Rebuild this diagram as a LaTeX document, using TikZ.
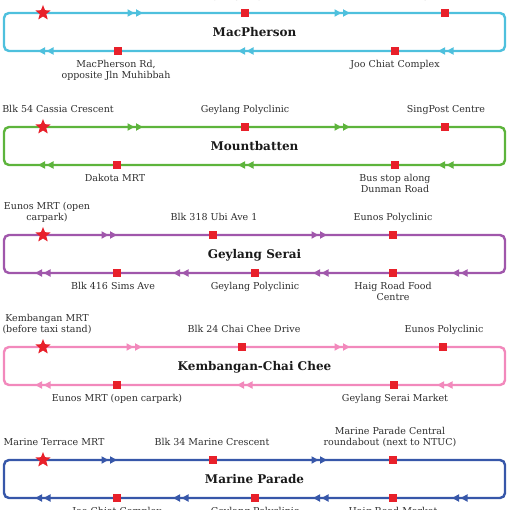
\documentclass[tikz,border=0pt]{standalone}
\usepackage{fontspec}
\setmainfont{DejaVu Serif}
\usetikzlibrary{shapes.geometric, arrows.meta, positioning}
\definecolor{macline}{HTML}{4EC0DD}
\definecolor{mbtline}{HTML}{5DB43C}
\definecolor{gysline}{HTML}{A057AB}
\definecolor{kccline}{HTML}{F289BC}
\definecolor{mpline}{HTML}{3757A9}
\definecolor{stopred}{HTML}{E8202A}
\definecolor{labeltext}{HTML}{2E2E2E}
\definecolor{titletext}{HTML}{1A1A1A}

\tikzset{
  loopbox/.style={draw=#1, rounded corners=5pt, line width=2.4pt,
    minimum width=501pt, minimum height=38pt, inner sep=0pt,
    text height=9pt, text depth=0pt, text=titletext,
    font=\fontsize{12}{14}\selectfont\bfseries},
  stopsq/.style={fill=stopred, minimum size=8pt, inner sep=0pt},
  startstar/.style={star, star points=5, star point ratio=2.3, fill=stopred,
    minimum size=16pt, inner sep=0pt},
  uplabel/.style={anchor=south, inner sep=0pt, align=center, text=labeltext,
    font=\fontsize{9.5}{11}\selectfont,
    execute at begin node=\strut, execute at end node=\strut},
  downlabel/.style={uplabel, anchor=north},
  flow/.style={draw=#1, line width=2.4pt,
    -{Triangle[length=7pt,width=7pt,sep=1.5pt]Triangle[length=7pt,width=7pt]}}
}

\begin{document}
\begin{tikzpicture}[x=1pt, y=-1pt]
  \useasboundingbox (0,0) rectangle (510,510);

  % MacPherson
  \node[loopbox=macline] (mac) at (254.5,32) {MacPherson};
  \draw[flow=macline] (127,13) -- (143,13);
  \draw[flow=macline] (334,13) -- (350,13);
  \draw[flow=macline] (54,51) -- (38,51);
  \draw[flow=macline] (254,51) -- (238,51);
  \draw[flow=macline] (454,51) -- (438,51);
  \node[startstar] (macstart) at (43,13) {};
  \node[stopsq] (macgp) at (245,13) {};
  \node[stopsq] (macsp) at (445,13) {};
  \node[stopsq] (macrd) at (118,51) {};
  \node[stopsq] (macjc) at (395,51) {};
  \node[uplabel] (macgpl) at (245,2.3) {Geylang Polyclinic};
  \node[uplabel] (macspl) at (446,2.3) {SingPost Centre};
  \node[downlabel] (macrdl) at (116,59.8) {MacPherson Rd,\\opposite Jln Muhibbah};
  \node[downlabel] (macjcl) at (395,59.8) {Joo Chiat Complex};

  % Mountbatten
  \node[loopbox=mbtline] (mbt) at (254.5,146) {Mountbatten};
  \draw[flow=mbtline] (127,127) -- (143,127);
  \draw[flow=mbtline] (334,127) -- (350,127);
  \draw[flow=mbtline] (54,165) -- (38,165);
  \draw[flow=mbtline] (254,165) -- (238,165);
  \draw[flow=mbtline] (454,165) -- (438,165);
  \node[startstar] (mbtstart) at (43,127) {};
  \node[stopsq] (mbtgp) at (245,127) {};
  \node[stopsq] (mbtsp) at (445,127) {};
  \node[stopsq] (mbtdk) at (117,165) {};
  \node[stopsq] (mbtdr) at (395,165) {};
  \node[uplabel] (mbtstartl) at (58,116.3) {Blk 54 Cassia Crescent};
  \node[uplabel] (mbtgpl) at (245,116.3) {Geylang Polyclinic};
  \node[uplabel] (mbtspl) at (446,116.3) {SingPost Centre};
  \node[downlabel] (mbtdkl) at (115,173.8) {Dakota MRT};
  \node[downlabel] (mbtdrl) at (395,173.8) {Bus stop along\\Dunman Road};

  % Geylang Serai
  \node[loopbox=gysline] (gys) at (254.5,254) {Geylang Serai};
  \draw[flow=gysline] (101,235) -- (117,235);
  \draw[flow=gysline] (311,235) -- (327,235);
  \draw[flow=gysline] (51,273) -- (35,273);
  \draw[flow=gysline] (189,273) -- (173,273);
  \draw[flow=gysline] (329,273) -- (313,273);
  \draw[flow=gysline] (468,273) -- (452,273);
  \node[startstar] (gysstart) at (43,235) {};
  \node[stopsq] (gysubi) at (213,235) {};
  \node[stopsq] (gyseu) at (393,235) {};
  \node[stopsq] (gyssims) at (117,273) {};
  \node[stopsq] (gysgp) at (255,273) {};
  \node[stopsq] (gyshaig) at (393,273) {};
  \node[uplabel] (gysstartl) at (47,224.3) {Eunos MRT (open\\carpark)};
  \node[uplabel] (gysubil) at (214,224.3) {Blk 318 Ubi Ave 1};
  \node[uplabel] (gyseul) at (393,224.3) {Eunos Polyclinic};
  \node[downlabel] (gyssimsl) at (113,281.8) {Blk 416 Sims Ave};
  \node[downlabel] (gysgpl) at (255,281.8) {Geylang Polyclinic};
  \node[downlabel] (gyshaigl) at (393,281.8) {Haig Road Food\\Centre};

  % Kembangan-Chai Chee
  \node[loopbox=kccline] (kcc) at (254.5,366) {Kembangan-Chai Chee};
  \draw[flow=kccline] (126,347) -- (142,347);
  \draw[flow=kccline] (334,347) -- (350,347);
  \draw[flow=kccline] (51,385) -- (35,385);
  \draw[flow=kccline] (253,385) -- (237,385);
  \draw[flow=kccline] (453,385) -- (437,385);
  \node[startstar] (kccstart) at (43,347) {};
  \node[stopsq] (kccblk) at (242,347) {};
  \node[stopsq] (kcceu) at (443,347) {};
  \node[stopsq] (kccmrt) at (117,385) {};
  \node[stopsq] (kccmkt) at (394,385) {};
  \node[uplabel] (kccstartl) at (47,336.3) {Kembangan MRT\\(before taxi stand)};
  \node[uplabel] (kccblkl) at (244,336.3) {Blk 24 Chai Chee Drive};
  \node[uplabel] (kcceul) at (444,336.3) {Eunos Polyclinic};
  \node[downlabel] (kccmrtl) at (117,393.8) {Eunos MRT (open carpark)};
  \node[downlabel] (kccmktl) at (395,393.8) {Geylang Serai Market};

  % Marine Parade
  \node[loopbox=mpline] (mp) at (254.5,479) {Marine Parade};
  \draw[flow=mpline] (101,460) -- (117,460);
  \draw[flow=mpline] (311,460) -- (327,460);
  \draw[flow=mpline] (51,498) -- (35,498);
  \draw[flow=mpline] (189,498) -- (173,498);
  \draw[flow=mpline] (329,498) -- (313,498);
  \draw[flow=mpline] (468,498) -- (452,498);
  \node[startstar] (mpstart) at (43,460) {};
  \node[stopsq] (mpblk) at (213,460) {};
  \node[stopsq] (mpcen) at (393,460) {};
  \node[stopsq] (mpjc) at (117,498) {};
  \node[stopsq] (mpgp) at (255,498) {};
  \node[stopsq] (mphaig) at (393,498) {};
  \node[uplabel] (mpstartl) at (54,449.3) {Marine Terrace MRT};
  \node[uplabel] (mpblkl) at (212,449.3) {Blk 34 Marine Crescent};
  \node[uplabel] (mpcenl) at (390,449.3) {Marine Parade Central\\roundabout (next to NTUC)};
  \node[downlabel] (mpjcl) at (117,506.8) {Joo Chiat Complex};
  \node[downlabel] (mpgpl) at (255,506.8) {Geylang Polyclinic};
  \node[downlabel] (mphaigl) at (393,506.8) {Haig Road Market};
\end{tikzpicture}
\end{document}
